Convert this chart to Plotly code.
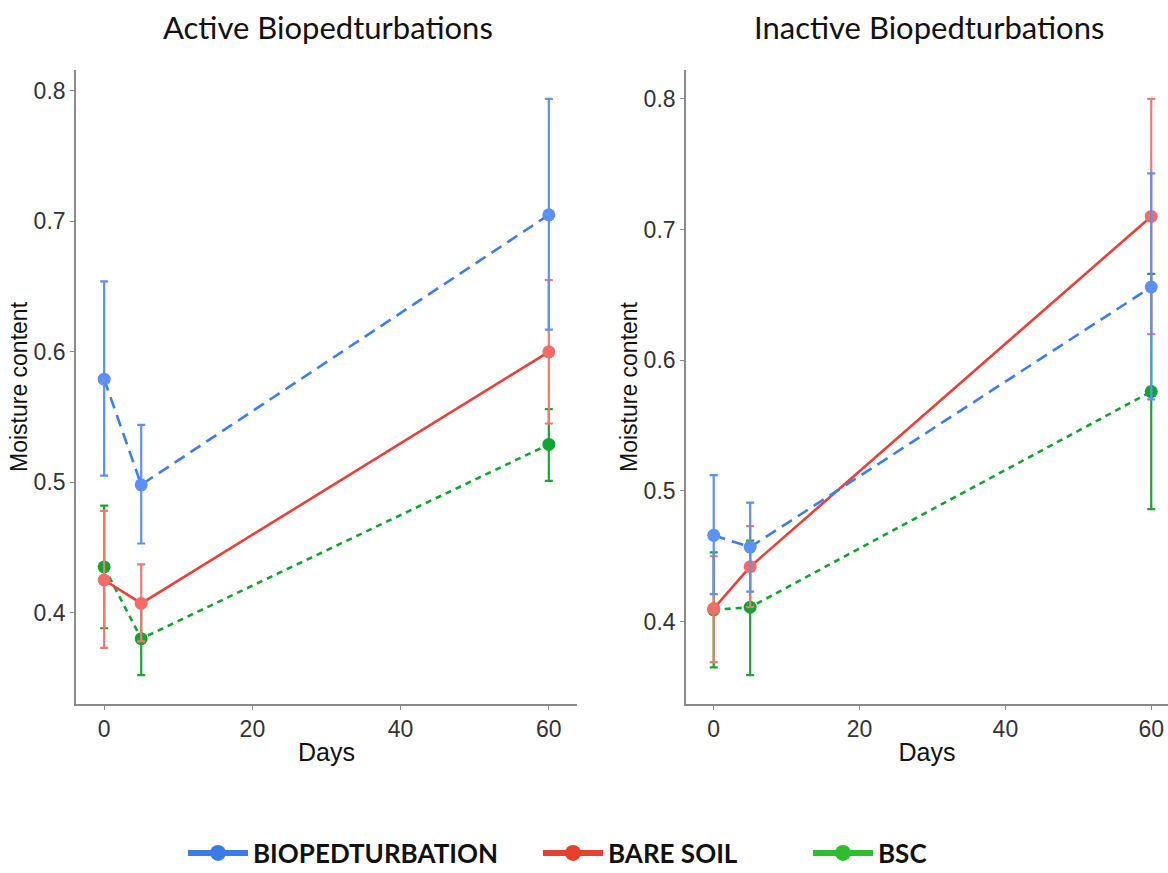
import plotly.graph_objects as go

# ---------------- data ----------------
days = [0, 5, 60]

# Active Biopedturbations
act_bio = [0.579, 0.498, 0.705]
act_bio_hi = [0.654, 0.544, 0.794]
act_bio_lo = [0.505, 0.453, 0.617]

act_bare = [0.425, 0.407, 0.600]
act_bare_hi = [0.478, 0.437, 0.655]
act_bare_lo = [0.373, 0.378, 0.545]

act_bsc = [0.435, 0.380, 0.529]
act_bsc_hi = [0.482, 0.408, 0.556]
act_bsc_lo = [0.388, 0.352, 0.501]

# Inactive Biopedturbations
ina_bio = [0.466, 0.457, 0.656]
ina_bio_hi = [0.512, 0.491, 0.743]
ina_bio_lo = [0.421, 0.423, 0.570]

ina_bare = [0.410, 0.442, 0.710]
ina_bare_hi = [0.450, 0.473, 0.800]
ina_bare_lo = [0.369, 0.411, 0.620]

ina_bsc = [0.409, 0.411, 0.576]
ina_bsc_hi = [0.453, 0.462, 0.666]
ina_bsc_lo = [0.365, 0.359, 0.486]

series_names = ["BIOPEDTURBATION", "BARE SOIL", "BSC"]
x_ticks = [0, 20, 40, 60]
y_ticks = [0.4, 0.5, 0.6, 0.7, 0.8]
panel_titles = ["Active Biopedturbations", "Inactive Biopedturbations"]

# ---------------- style ----------------
W, H = 1168, 873
line_col = {"BIOPEDTURBATION": "#3B7EF3", "BARE SOIL": "#EE3E37", "BSC": "#12A52C"}
mark_col = {"BIOPEDTURBATION": "#5C90F2", "BARE SOIL": "#F26D67", "BSC": "#0FA631"}
err_col = {"BIOPEDTURBATION": "#5C90F2", "BARE SOIL": "#F27872", "BSC": "#1AA634"}
dash = {"BIOPEDTURBATION": "12px,7px", "BARE SOIL": "solid", "BSC": "6px,5px"}
leg_col = {"BIOPEDTURBATION": "#3A7BE8", "BARE SOIL": "#E8402E", "BSC": "#2DBE2D"}

fig = go.Figure()


def add_series(name, y, hi, lo, xa, ya):
    fig.add_trace(go.Scatter(
        x=days, y=y, xaxis=xa, yaxis=ya, name=name, showlegend=False,
        mode="lines+markers",
        line=dict(color=line_col[name], width=2.6, dash=dash[name]),
        marker=dict(color=mark_col[name], size=13),
        error_y=dict(type="data", symmetric=False,
                     array=[h - v for h, v in zip(hi, y)],
                     arrayminus=[v - l for l, v in zip(lo, y)],
                     color=err_col[name], thickness=2.2, width=4),
    ))


panels = [
    ("x", "y", [(act_bio, act_bio_hi, act_bio_lo),
                (act_bare, act_bare_hi, act_bare_lo),
                (act_bsc, act_bsc_hi, act_bsc_lo)]),
    ("x2", "y2", [(ina_bio, ina_bio_hi, ina_bio_lo),
                  (ina_bare, ina_bare_hi, ina_bare_lo),
                  (ina_bsc, ina_bsc_hi, ina_bsc_lo)]),
]

yranges = []
for xa, ya, data in panels:
    lows, highs = [], []
    for y, hi, lo in data:
        lows += lo
        highs += hi
    # draw order: BSC, BARE SOIL, BIOPEDTURBATION
    for idx in [2, 1, 0]:
        y, hi, lo = data[idx]
        add_series(series_names[idx], y, hi, lo, xa, ya)
    mn, mx = min(lows), max(highs)
    span = mx - mn
    yranges.append([mn - 0.05 * span, mx + 0.05 * span])

# legend-only entries
for i, name in enumerate(series_names):
    fig.add_trace(go.Scatter(
        x=[None], y=[None], name=name, mode="lines+markers",
        line=dict(color=leg_col[name], width=6),
        marker=dict(color=leg_col[name], size=22),
        legend=["legend", "legend2", "legend3"][i], showlegend=True,
    ))

axis_common = dict(
    showgrid=False, zeroline=False, showline=True, linecolor="#8A8A8A",
    linewidth=1.6, ticks="outside", ticklen=4, tickwidth=1.2, tickcolor="#8A8A8A",
    tickfont=dict(family="Liberation Sans, Arial", size=23, color="#333333"),
    automargin=False,
)
title_font_x = dict(family="Liberation Sans, Arial", size=25, color="#111111")
title_font_y = dict(family="Liberation Sans, Arial", size=23, color="#111111")

top_y = 1 - 70 / H
bot_y = 1 - 704 / H

fig.update_layout(
    width=W, height=H, paper_bgcolor="white", plot_bgcolor="white",
    margin=dict(l=0, r=0, t=0, b=0, autoexpand=False),
    xaxis=dict(domain=[76 / W, 577 / W], range=[-3.8, 63.8], tickvals=x_ticks,
               ticklabelstandoff=0,
               title=dict(text="Days", standoff=2, font=title_font_x),
               anchor="y", **axis_common),
    yaxis=dict(domain=[bot_y, top_y], range=yranges[0], tickvals=y_ticks,
               tickformat=".1f",
               title=dict(text="Moisture content", standoff=0, font=title_font_y),
               anchor="x", **axis_common),
    xaxis2=dict(domain=[686 / W, 1.0], range=[-3.8, 62.3], tickvals=x_ticks,
                ticklabelstandoff=0,
                title=dict(text="Days", standoff=2, font=title_font_x),
                anchor="y2", **axis_common),
    yaxis2=dict(domain=[bot_y, top_y], range=yranges[1], tickvals=y_ticks,
                tickformat=".1f",
                title=dict(text="Moisture content", standoff=0, font=title_font_y),
                anchor="x2", **axis_common),
    showlegend=True,
)

leg_font = dict(family="Lato, Open Sans", size=26, color="#111111", weight="bold")
leg_common = dict(orientation="h", yanchor="middle", y=1 - 853 / H, xanchor="left",
                  font=leg_font, bgcolor="rgba(0,0,0,0)", itemsizing="trace",
                  itemwidth=60)
fig.update_layout(
    legend=dict(x=183 / W, **leg_common),
    legend2=dict(x=538 / W, **leg_common),
    legend3=dict(x=808 / W, **leg_common),
)

# panel titles
title_font = dict(family="Lato, Open Sans", size=31, color="#111111")
fig.add_annotation(text=panel_titles[0], xref="paper", yref="paper",
                   x=328 / W, y=1 - 27 / H, showarrow=False, xanchor="center",
                   yanchor="middle", font=title_font)
fig.add_annotation(text=panel_titles[1], xref="paper", yref="paper",
                   x=929 / W, y=1 - 27 / H, showarrow=False, xanchor="center",
                   yanchor="middle", font=title_font)

fig.write_html("out.html", config={"displayModeBar": False},
               post_script="document.body.style.margin='0';")
